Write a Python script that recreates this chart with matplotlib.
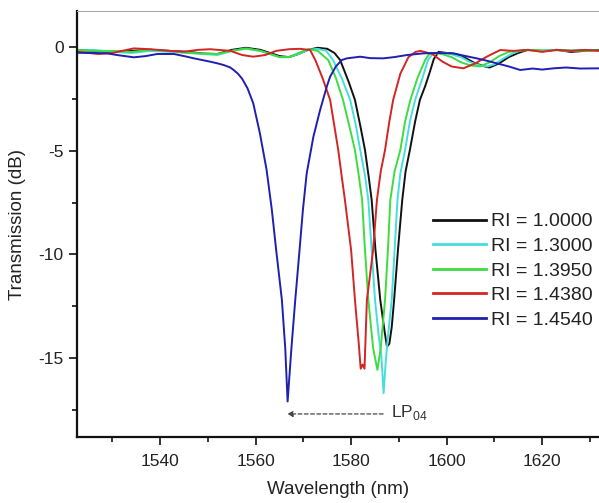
import matplotlib
matplotlib.use("Agg")
import matplotlib.pyplot as plt
from matplotlib.ticker import MultipleLocator

plt.rcParams['font.family'] = ['Liberation Sans', 'DejaVu Sans']
plt.rcParams['mathtext.fontset'] = 'custom'
plt.rcParams['mathtext.rm'] = 'Liberation Sans'
plt.rcParams['axes.unicode_minus'] = False

labels = ["RI = 1.0000", "RI = 1.3000", "RI = 1.3950", "RI = 1.4380", "RI = 1.4540"]
colors = ["#111111", "#45dede", "#3fdc3f", "#d42424", "#1f1fb0"]

wl_black = [1522.6, 1526, 1530, 1534, 1538, 1542, 1546, 1549, 1552, 1555, 1558, 1561, 1563, 1565, 1567,
            1569, 1571, 1573, 1575, 1576.5, 1577.7, 1579.5, 1580.8, 1582.0, 1582.9, 1583.7, 1584.3, 1585.1,
            1586.1, 1587.0, 1587.5, 1588.0, 1588.5, 1589.0, 1589.8, 1590.7, 1591.4, 1592.3, 1593.4, 1594.4,
            1595.5, 1596.5, 1597.3, 1598.3, 1600, 1602, 1604, 1606, 1608, 1609, 1611, 1613, 1615, 1617,
            1620, 1623, 1626, 1629, 1632]
t_black = [-0.15, -0.2, -0.25, -0.2, -0.15, -0.2, -0.25, -0.33, -0.35, -0.15, -0.05, -0.15, -0.3, -0.45, -0.5,
           -0.35, -0.15, -0.05, -0.1, -0.3, -0.64, -1.7, -2.56, -3.9, -4.97, -6.3, -7.38, -9.8,
           -12.19, -13.7, -14.44, -14.3, -13.5, -12.19, -9.8, -7.38, -6.0, -4.97, -3.6, -2.56,
           -1.9, -1.2, -0.6, -0.25, -0.3, -0.35, -0.55, -0.8, -0.95, -1.0, -0.8, -0.5, -0.3, -0.15,
           -0.2, -0.15, -0.25, -0.2, -0.15]

wl_cyan = [1522.6, 1526, 1530, 1534, 1538, 1542, 1546, 1549, 1552, 1555, 1558, 1561, 1563, 1565, 1567,
           1569, 1571, 1573, 1574.8, 1576.2, 1578.0, 1579.8, 1581.0, 1581.9, 1582.9, 1583.6, 1584.3, 1585.0,
           1585.8, 1586.3, 1586.8, 1587.2, 1587.6, 1588.0, 1588.5, 1589.1, 1589.7, 1590.3, 1591.3, 1592.3,
           1593.4, 1594.8, 1596.1, 1597.2, 1600, 1603, 1605, 1607, 1608.5, 1610, 1612, 1614, 1616,
           1619, 1622, 1625, 1628, 1632]
t_cyan = [-0.2, -0.15, -0.25, -0.3, -0.2, -0.25, -0.3, -0.35, -0.4, -0.2, -0.1, -0.2, -0.35, -0.5, -0.5,
          -0.35, -0.15, -0.1, -0.2, -0.64, -1.5, -2.56, -3.8, -4.97, -6.2, -7.38, -9.8, -12.19,
          -14.0, -14.8, -16.68, -15.3, -14.2, -13.3, -12.19, -9.8, -7.38, -6.1, -4.97, -3.6,
          -2.56, -1.6, -0.64, -0.3, -0.3, -0.5, -0.75, -0.9, -0.95, -0.85, -0.55, -0.3, -0.15,
          -0.2, -0.15, -0.2, -0.15, -0.2]

wl_green = [1522.6, 1526, 1530, 1534, 1538, 1542, 1546, 1549, 1552, 1555, 1558, 1561, 1563, 1565, 1567,
            1569, 1571, 1573, 1575.2, 1576.8, 1578.3, 1579.6, 1580.8, 1581.6, 1582.3, 1582.9, 1583.6, 1584.6,
            1585.5, 1586.2, 1587.1, 1587.7, 1588.2, 1589.1, 1590.3, 1591.3, 1592.4, 1593.9, 1595.5, 1596.5,
            1599, 1601, 1603, 1605, 1607, 1609, 1611, 1613, 1615, 1618, 1621, 1624, 1627, 1632]
t_green = [-0.15, -0.2, -0.2, -0.25, -0.15, -0.2, -0.3, -0.33, -0.35, -0.2, -0.08, -0.2, -0.35, -0.5, -0.5,
           -0.3, -0.12, -0.2, -0.64, -1.5, -2.56, -3.8, -4.97, -6.2, -7.38, -9.8, -12.19, -14.5,
           -15.56, -14.5, -12.19, -9.8, -7.38, -6.0, -4.97, -3.6, -2.56, -1.5, -0.64, -0.3,
           -0.35, -0.5, -0.75, -0.9, -0.95, -0.75, -0.45, -0.25, -0.2, -0.15, -0.2, -0.15, -0.2, -0.18]

wl_red = [1522.6, 1527, 1530, 1534.5, 1538, 1542, 1545, 1548, 1550.5, 1554.7, 1557.2, 1559.5, 1562, 1564.3,
          1567, 1569.3, 1571.4, 1572.5, 1574.0, 1575.6, 1577.3, 1578.0, 1578.7, 1580.0, 1580.8, 1581.6,
          1582.0, 1582.4, 1582.8, 1583.3, 1584.6, 1585.4, 1586.2, 1587.1, 1588.0, 1588.8, 1590.3, 1592.0,
          1593.5, 1594.5, 1597, 1599, 1601, 1603.5, 1606, 1608.4, 1611.2, 1614, 1617, 1620, 1623, 1626,
          1629, 1632]
t_red = [-0.24, -0.35, -0.3, -0.08, -0.12, -0.2, -0.24, -0.15, -0.12, -0.2, -0.4, -0.48, -0.4, -0.2,
         -0.12, -0.1, -0.16, -0.64, -1.5, -2.56, -4.97, -6.2, -7.38, -9.8, -12.19, -14.3,
         -15.5, -15.3, -15.5, -12.19, -9.8, -7.38, -6.0, -4.97, -3.6, -2.56, -1.3, -0.5,
         -0.25, -0.2, -0.35, -0.7, -0.95, -1.04, -0.8, -0.48, -0.16, -0.2, -0.15, -0.25, -0.15, -0.2,
         -0.15, -0.2]

wl_blue = [1522.6, 1526, 1528.9, 1531, 1534.5, 1537, 1539.4, 1542.9, 1545, 1547.1, 1549, 1550.5, 1552,
           1553.3, 1554.7, 1555.4, 1556.3, 1557.2, 1558.3, 1559.5, 1560.9, 1562.3, 1563.4, 1564.3, 1565.5,
           1566.2, 1566.7, 1567.5, 1568.3, 1569.2, 1569.9, 1570.7, 1572.1, 1573.5, 1574.9, 1575.6, 1576.8,
           1578.05, 1579.1, 1581.9, 1584, 1586.7, 1589, 1591.7, 1595.1, 1598, 1601.4, 1604, 1606.3, 1608,
           1610.5, 1613, 1615.4, 1618, 1620, 1622.4, 1625, 1628, 1632]
t_blue = [-0.29, -0.3, -0.32, -0.4, -0.51, -0.45, -0.35, -0.35, -0.45, -0.56, -0.65, -0.72, -0.8,
          -0.88, -1.0, -1.12, -1.3, -1.55, -2.0, -2.72, -4.17, -5.93, -7.86, -9.78, -12.19,
          -14.5, -17.08, -14.5, -12.19, -9.78, -7.86, -6.09, -4.33, -3.05, -1.92, -1.44, -0.95,
          -0.64, -0.56, -0.48, -0.55, -0.56, -0.5, -0.4, -0.32, -0.3, -0.32, -0.45, -0.56, -0.65,
          -0.8, -0.95, -1.12, -1.05, -1.1, -1.04, -1.0, -1.05, -1.04]

series = [(wl_black, t_black), (wl_cyan, t_cyan), (wl_green, t_green), (wl_red, t_red), (wl_blue, t_blue)]

x_ticks = [1540, 1560, 1580, 1600, 1620]
y_ticks = [0, -5, -10, -15]

fig = plt.figure(figsize=(5.99, 5.03), dpi=100)
ax = fig.add_axes([77/599, 66/503, 522/599, 426/503])

for (wl, t), c, lab in zip(series, colors, labels):
    ax.plot(wl, t, color=c, lw=1.4, label=lab)

ax.set_xlim(1522.6, 1631.9)
ax.set_ylim(-18.79, 1.72)
ax.set_xticks(x_ticks)
ax.set_yticks(y_ticks)
ax.xaxis.set_minor_locator(MultipleLocator(10))
ax.yaxis.set_minor_locator(MultipleLocator(2.5))
ax.tick_params(which='major', direction='out', length=6, width=1.3, labelsize=12.5, colors='#222222')
ax.tick_params(which='minor', direction='out', length=3.6, width=1.3, colors='#222222')
ax.tick_params(axis='x', pad=6)
for s in ['left', 'bottom']:
    ax.spines[s].set_linewidth(1.6)
    ax.spines[s].set_color('#111111')
ax.spines['top'].set_color('#aaaaaa')
ax.spines['top'].set_linewidth(0.8)
ax.spines['right'].set_visible(False)

ax.set_xlabel('Wavelength (nm)', fontsize=13.5, color='#222222')
ax.set_ylabel('Transmission (dB)', fontsize=13.5, color='#222222')
ax.xaxis.set_label_coords(0.5, -0.103)
ax.yaxis.set_label_coords(-0.098, 0.5)

leg = ax.legend(loc='center left', bbox_to_anchor=(0.682, 0.39), frameon=False, fontsize=14,
                handlelength=2.7, handletextpad=0.3, labelspacing=0.36, borderpad=0, borderaxespad=0)
for line in leg.get_lines():
    line.set_linewidth(2.0)
for txt in leg.get_texts():
    txt.set_color('#222222')

ax.annotate('', xy=(1566.6, -17.68), xytext=(1586.7, -17.68),
            arrowprops=dict(arrowstyle='-|>', linestyle=(0, (3, 2)), color='#444444', lw=0.9,
                            mutation_scale=8, shrinkA=0, shrinkB=0))
ax.text(1588.4, -17.6, 'LP$_{\\mathregular{04}}$', fontsize=12.5, color='#333333', va='center', ha='left')

fig.savefig('out.png', dpi=100)
